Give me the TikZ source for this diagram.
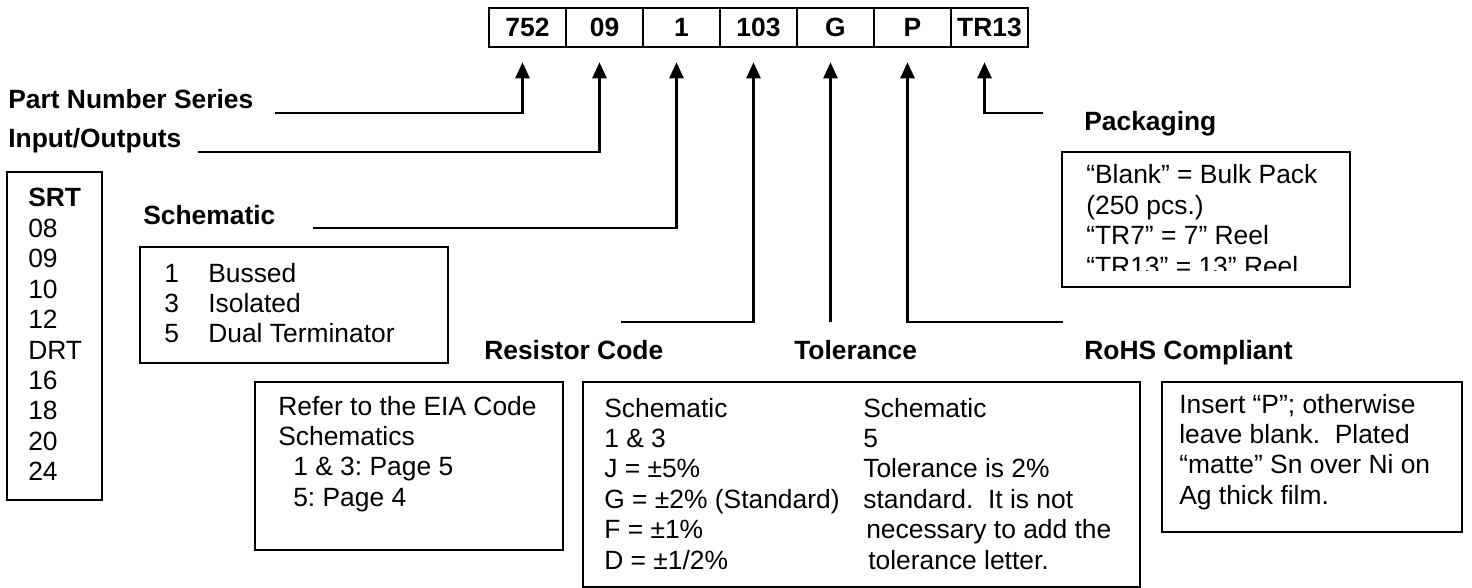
\documentclass[tikz,border=0pt]{standalone}
\usepackage{fontspec}
\setmainfont{Liberation Sans}
\usetikzlibrary{arrows.meta}
\tikzset{
  cell/.style={draw,line width=1.3pt,minimum width=38.5pt,minimum height=19.5pt,inner sep=0pt,font=\bfseries},
  lbl/.style={anchor=base west,inner sep=0pt,font=\bfseries},
  txt/.style={anchor=base west,inner sep=0pt},
  infobox/.style={draw,line width=1.1pt,inner sep=0pt}
}
\begin{document}
\frenchspacing
\fontsize{13.2}{15.2}\selectfont
\begin{tikzpicture}[x=0.5pt,y=-0.5pt,>={Triangle[length=8pt,width=7pt]},line width=1.3pt]
\useasboundingbox (0,0) rectangle (1472,588);
% part number fields
\path (527.5,27.5)
  +(0,0)   node[cell] (c752) {752}
  +(77,0)  node[cell] (c09)  {09}
  +(154,0) node[cell] (c1)   {1}
  +(231,0) node[cell] (c103) {103}
  +(308,0) node[cell] (cG)   {G}
  +(385,0) node[cell] (cP)   {P}
  +(462,0) node[cell] (cTR)  {TR13}
  ;
\foreach \c in {c752,c09,c1,c103,cG,cP,cTR}
  \coordinate (\c-tip) at ([xshift=-2.5pt,yshift=-7pt]\c.south);

% captions
\node[lbl] (pns)  at (7,109)    {Part Number Series};
\node[lbl] (io)   at (7,148)    {Input/Outputs};
\node[lbl] (sch)  at (142,225)  {Schematic};
\node[lbl] (rc)   at (483,359)  {Resistor Code};
\node[lbl] (tol)  at (793,359)  {Tolerance};
\node[lbl] (rohs) at (1083,359) {RoHS Compliant};
\node[lbl] (pack) at (1083,131) {Packaging};

\coordinate (pns-end)  at (275,113);
\coordinate (io-end)   at (198,152);
\coordinate (sch-end)  at (313,228);
\coordinate (rc-end)   at (621,322);
\coordinate (rohs-end) at (1063,322);
\coordinate (pack-end) at (1043,113);
\coordinate (tol-end)  at (cG-tip |- rc-end);

\draw[->] (pns-end) -| (c752-tip);
\draw[->] (io-end) -| (c09-tip);
\draw[->] (sch-end) -| (c1-tip);
\draw[->] (rc-end) -| (c103-tip);
\draw[->] (tol-end) -- (cG-tip);
\draw[->] (rohs-end) -| (cP-tip);
\draw[->] (pack-end) -| (cTR-tip);

% option boxes
\node[infobox,minimum width=47.5pt,minimum height=164pt] (srtbox) at (54.5,336) {};
\node[infobox,minimum width=154pt,minimum height=58pt] (schbox) at (294,305) {};
\node[infobox,minimum width=154pt,minimum height=84pt] (refbox) at (409,466) {};
\node[infobox,minimum width=278.5pt,minimum height=102.5pt] (tolbox) at (861.5,484.5) {};
\node[infobox,minimum width=150pt,minimum height=75pt] (rohsbox) at (1312,457) {};
\node[infobox,minimum width=144pt,minimum height=67.5pt] (packbox) at (1206,219.5) {};

\node[lbl] (srt) at (27,207) {SRT};
\foreach \v [count=\i] in {08,09,10,12,DRT,16,18,20,24}
  \node[txt] (srt\i) at (27,207+30.4*\i) {\v};

\foreach \n/\w [count=\i from 0] in {1/Bussed,3/Isolated,5/Dual Terminator} {
  \node[txt] (schn\i) at (163,283+30*\i) {\n};
  \node[txt] (schw\i) at (207,283+30*\i) {\w};
}

\node[txt] (ref1) at (277,415)   {Refer to the EIA Code};
\node[txt] (ref2) at (277,445.4) {Schematics};
\node[txt] (ref3) at (292,475.8) {1 \& 3: Page 5};
\node[txt] (ref4) at (292,506.2) {5: Page 4};

\foreach \t [count=\i from 0] in {Schematic,1 \& 3,J = ±5\%,G = ±2\% (Standard),F = ±1\%,D = ±1/2\%}
  \node[txt] (tl\i) at (603,417+30.4*\i) {\t};
\foreach \t [count=\i from 0] in {Schematic,5,Tolerance is 2\%,standard.\ \ It is not,\hspace{1.5pt}necessary to add the,\hspace{2.5pt}tolerance letter.}
  \node[txt] (tr\i) at (862,417+30.4*\i) {\t};

\foreach \t [count=\i from 0] in {{Insert “P”; otherwise},leave blank.\ \ Plated,“matte” Sn over Ni on,Ag thick film.}
  \node[txt] (rh\i) at (1178,413+30.4*\i) {\t};

\begin{scope}
  \clip (1063,153) rectangle (1349,271);
  \foreach \t [count=\i from 0] in {“Blank” = Bulk Pack,{(250 pcs.)},“TR7” = 7” Reel,“TR13” = 13” Reel}
    \node[txt] (pk\i) at (1085,184+30.4*\i) {\t};
\end{scope}
\end{tikzpicture}
\end{document}
